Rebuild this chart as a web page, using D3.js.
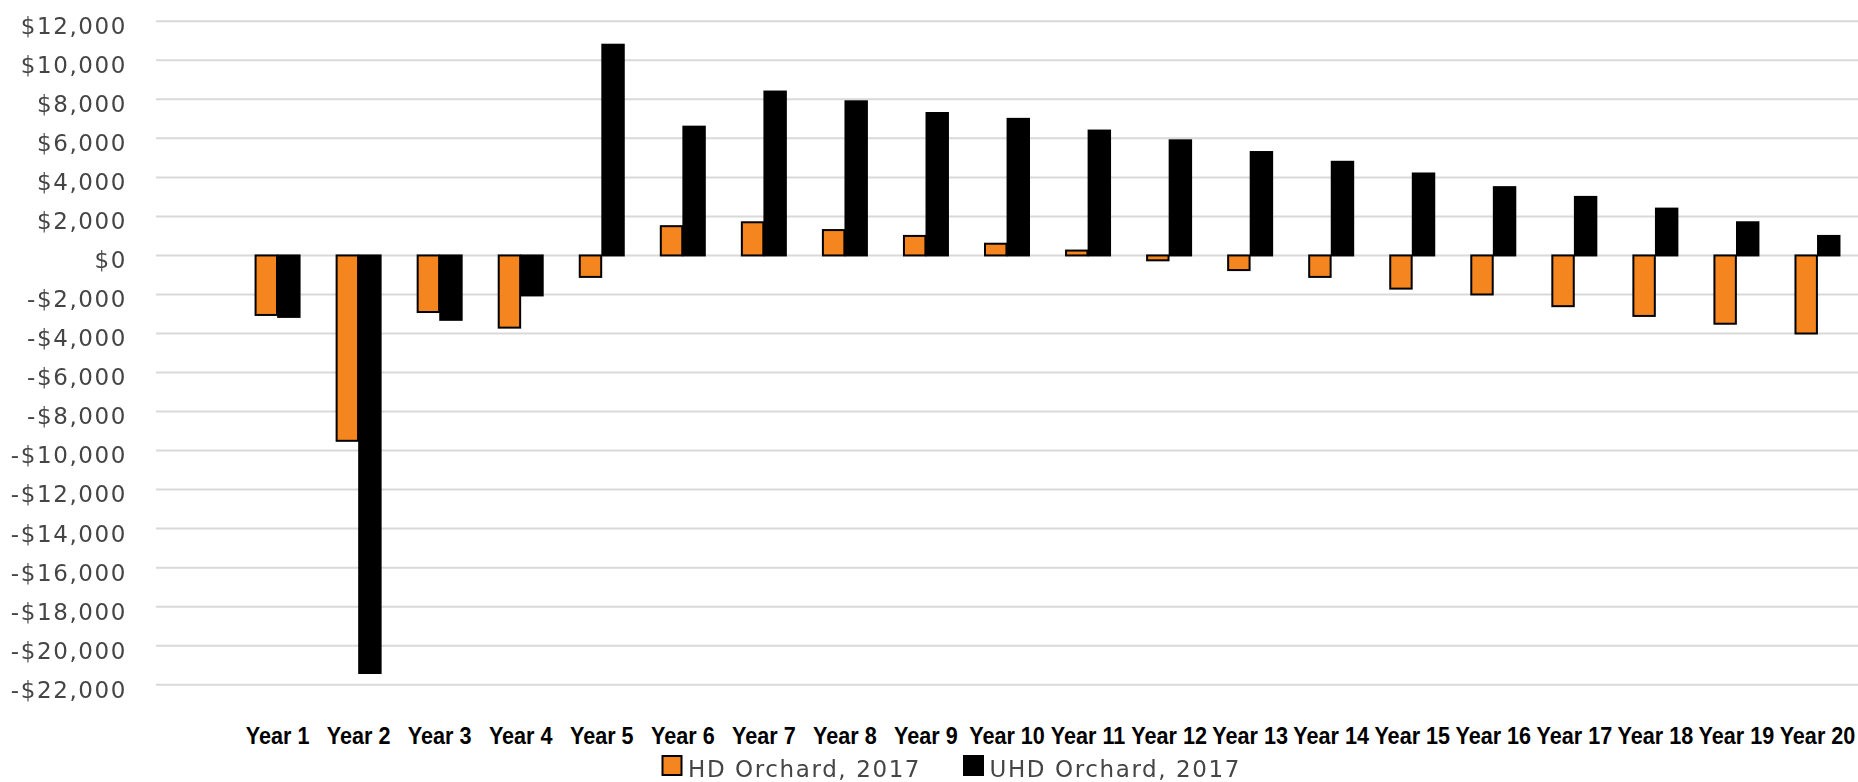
<!DOCTYPE html>
<html>
<head>
<meta charset="utf-8">
<script src="https://cdn.jsdelivr.net/npm/d3@7"></script>
<style>
  html, body { margin: 0; padding: 0; background: #ffffff; }
  svg { display: block; }
</style>
</head>
<body>
<svg id="chart" width="1858" height="782"></svg>
<script>
// Annual net returns per orchard system, years 1-20
const years = ["Year 1","Year 2","Year 3","Year 4","Year 5","Year 6","Year 7","Year 8","Year 9","Year 10",
               "Year 11","Year 12","Year 13","Year 14","Year 15","Year 16","Year 17","Year 18","Year 19","Year 20"];
const seriesNames = ["HD Orchard, 2017", "UHD Orchard, 2017"];
const hdValues  = [-3050, -9500, -2900, -3700, -1100, 1500, 1700, 1300, 1000, 600,
                   250, -250, -750, -1100, -1700, -2000, -2600, -3100, -3500, -4000];
const uhdValues = [-3150, -21400, -3300, -2050, 10800, 6600, 8400, 7900, 7300, 7000,
                   6400, 5900, 5300, 4800, 4200, 3500, 3000, 2400, 1700, 1000];
const yTicks = [12000, 10000, 8000, 6000, 4000, 2000, 0, -2000, -4000, -6000, -8000,
                -10000, -12000, -14000, -16000, -18000, -20000, -22000];
const seriesColors = ["#F5861F", "#000000"];

const rows = years.map((y, i) => ({ year: y, values: [hdValues[i], uhdValues[i]] }));

const svg = d3.select("#chart");
const plotLeft = 156, plotRight = 1858, plotTop = 21.3, plotBottom = 684.7;

// soft filter for the grey text
const defs = svg.append("defs");
defs.append("filter").attr("id", "soft")
  .attr("x", "-5%").attr("y", "-20%").attr("width", "110%").attr("height", "140%")
  .append("feGaussianBlur").attr("stdDeviation", 0.55);

const y = d3.scaleLinear().domain([-22000, 12000]).range([plotBottom, plotTop]);

// category slots: a leading empty slot precedes Year 1
const x = d3.scaleBand().domain([""].concat(years)).range([plotLeft, plotRight]).padding(0);
const groupW = 44;
const xs = d3.scaleBand().domain(seriesNames).range([-groupW / 2, groupW / 2]).paddingInner(0.05);

// gridlines
svg.append("g")
  .selectAll("line").data(yTicks).join("line")
  .attr("x1", plotLeft).attr("x2", plotRight)
  .attr("y1", d => y(d)).attr("y2", d => y(d))
  .attr("stroke", "#d9d9d9").attr("stroke-width", 2);

// y axis labels
const money = v => (v < 0 ? "-$" : "$") + d3.format(",")(Math.abs(v));
const yAxis = svg.append("g")
  .attr("transform", `translate(${plotLeft},0)`)
  .call(d3.axisLeft(y).tickValues(yTicks).tickFormat(money).tickSize(0).tickPadding(29));
yAxis.select(".domain").remove();
yAxis.selectAll("text")
  .attr("dy", null)
  .attr("y", 12.4)
  .attr("fill", "#444444")
  .attr("font-family", "'DejaVu Sans', Verdana, sans-serif")
  .attr("font-size", 23)
  .attr("letter-spacing", "1.6px")
  .attr("filter", "url(#soft)");

// bars
const groups = svg.append("g").selectAll("g").data(rows).join("g")
  .attr("transform", d => `translate(${x(d.year) + x.bandwidth() / 2},0)`);
groups.selectAll("rect")
  .data(d => d.values.map((v, i) => ({ v, key: seriesNames[i], i })))
  .join("rect")
  .attr("x", d => xs(d.key))
  .attr("width", xs.bandwidth())
  .attr("y", d => Math.min(y(d.v), y(0)))
  .attr("height", d => Math.abs(y(d.v) - y(0)))
  .attr("fill", d => seriesColors[d.i])
  .attr("stroke", "#000")
  .attr("stroke-width", 2);

// category labels (condensed bold)
const xAxis = svg.append("g")
  .attr("transform", `translate(0,${plotBottom})`)
  .call(d3.axisBottom(x).tickValues(years).tickSize(0).tickPadding(0));
xAxis.select(".domain").remove();
xAxis.selectAll("text")
  .attr("dy", null)
  .attr("y", 59)
  .attr("transform", "scale(0.92,1)")
  .attr("fill", "#000")
  .attr("font-family", "'Liberation Sans', Arial, sans-serif")
  .attr("font-weight", "bold")
  .attr("font-size", 23.5);

// legend
const legendX = [662.5, 964];
const legend = svg.append("g").selectAll("g").data(seriesNames).join("g")
  .attr("transform", (d, i) => `translate(${legendX[i]},756)`);
legend.append("rect")
  .attr("width", 19).attr("height", 19)
  .attr("fill", (d, i) => seriesColors[i])
  .attr("stroke", "#000").attr("stroke-width", 2);
legend.append("text")
  .attr("x", 25.5).attr("y", 21)
  .attr("fill", "#444444")
  .attr("font-family", "'DejaVu Sans', Verdana, sans-serif")
  .attr("font-size", 23)
  .attr("letter-spacing", "1.6px")
  .attr("filter", "url(#soft)")
  .text(d => d);
</script>
</body>
</html>
